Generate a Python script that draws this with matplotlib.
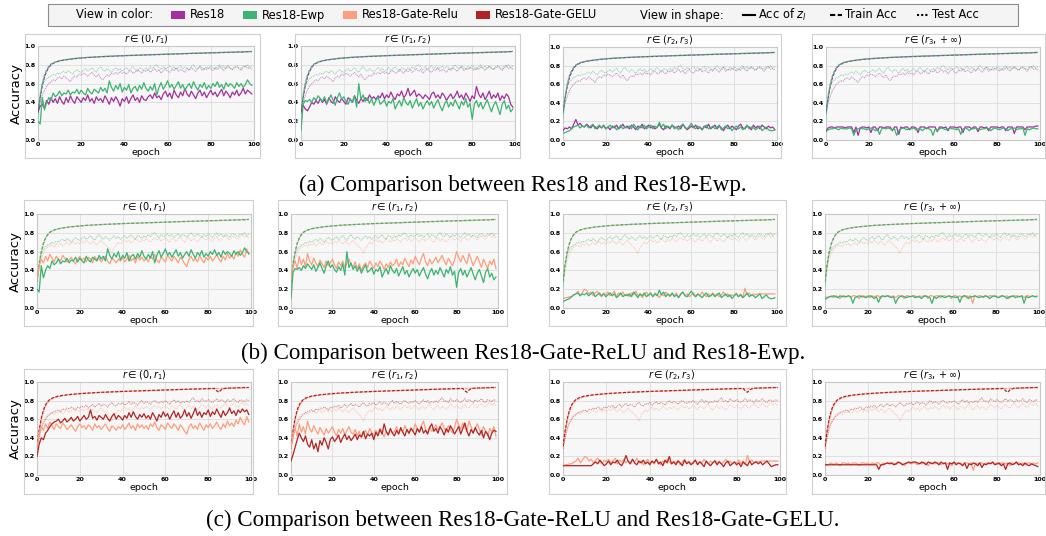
import numpy as np
import matplotlib
matplotlib.use("Agg")
import matplotlib.pyplot as plt
from matplotlib.patches import Rectangle
from matplotlib.lines import Line2D

# ---------------- data (accuracy; train in permille, others in percent) ----------------
train_res18 = [300,450,580,670,730,772,800,815,826,835, 841,846,850,854,857,860,863,866,868,870,
               872,874,876,877,879,880,882,883,884,886, 887,888,889,890,891,892,893,894,895,896,
               897,898,898,899,900,901,902,902,903,904, 905,906,906,907,908,909,909,910,911,912,
               913,913,914,915,916,916,917,918,919,919, 920,921,922,922,923,924,924,925,926,926,
               927,928,928,929,930,930,931,932,932,933, 934,934,935,936,936,937,938,939,940,941]
train_ewp = [280,470,600,690,745,782,806,820,830,838, 843,848,852,855,858,861,864,867,869,871,
             873,875,877,879,880,881,883,884,885,887, 888,889,890,891,892,893,894,895,896,897,
             898,899,900,900,901,902,903,903,904,905, 906,907,907,908,909,910,910,911,912,913,
             914,914,915,916,917,917,918,919,920,920, 921,922,923,923,924,925,925,926,927,927,
             928,929,929,930,931,931,932,933,933,934, 935,935,936,937,937,938,939,940,941,943]
train_relu = [290,460,590,680,740,778,803,818,828,836, 842,847,851,855,858,861,864,866,868,870,
              872,874,876,878,879,881,882,883,885,886, 887,888,889,890,891,892,893,894,895,896,
              897,898,899,900,900,901,902,903,903,904, 905,906,907,907,908,909,910,910,911,912,
              913,914,914,915,916,917,917,918,919,920, 920,921,922,922,923,924,925,925,926,927,
              927,928,929,929,930,931,931,932,933,933, 934,935,935,936,937,937,938,939,940,941]
train_gelu = [310,480,610,700,755,790,812,826,835,843, 848,852,856,859,862,865,867,869,871,873,
              875,877,878,880,881,883,884,885,886,888, 889,890,891,892,893,894,895,896,897,898,
              899,900,900,901,902,903,904,904,905,906, 907,908,908,909,910,911,911,912,913,914,
              915,915,916,917,918,918,919,920,921,921, 922,923,924,924,925,926,926,927,928,928,
              929,930,930,931,905,890,915,926,932,934, 935,936,936,937,938,938,939,940,940,941]

test_res18 = [30,40,47,53,57,60,62,64,63,66, 67,65,68,66,64,62,66,68,67,70,
              69,71,70,68,70,72,69,67,70,66, 64,67,69,68,71,70,72,70,73,71,
              72,70,73,74,71,72,75,73,71,74, 73,75,72,74,76,73,75,71,74,76,
              73,72,75,74,77,73,75,74,72,76, 74,77,75,73,76,78,74,76,75,77,
              76,74,77,75,78,76,74,77,79,76, 75,77,78,76,74,77,79,76,77,75]
test_ewp = [22,45,58,62,65,67,68,70,69,71, 70,72,73,71,74,72,70,73,75,73,
            72,74,76,73,75,77,74,72,76,78, 75,73,76,74,72,75,77,74,76,73,
            75,77,74,76,78,75,73,77,76,74, 77,75,78,76,79,80,77,75,78,76,
            77,79,76,78,75,77,79,76,78,77, 75,78,80,77,76,79,77,75,78,76,
            79,77,75,78,80,77,79,76,78,77, 75,78,79,77,76,79,78,80,77,79]
test_relu = [30,42,52,58,62,65,66,67,65,68, 67,69,66,68,70,67,69,71,68,70,
             68,71,69,72,70,68,71,69,67,70, 72,69,67,65,62,58,64,67,70,68,
             71,73,70,72,69,71,74,72,70,73, 71,74,72,70,73,75,72,74,71,73,
             75,72,70,74,73,71,74,76,72,70, 73,75,71,74,72,70,73,76,74,72,
             75,73,71,74,76,73,72,75,77,74, 72,75,77,74,73,76,78,75,77,74]
test_gelu = [28,40,50,56,60,63,65,67,68,69, 70,68,71,70,72,71,73,72,70,73,
             72,74,73,75,72,74,76,73,75,77, 74,76,75,73,76,78,75,74,77,76,
             78,75,77,79,76,78,77,75,78,80, 77,79,78,76,79,80,78,77,79,78,
             80,78,76,79,81,78,80,77,79,78, 80,78,81,83,79,80,78,82,80,79,
             81,79,78,80,82,79,81,80,78,81, 79,80,82,79,78,81,80,79,81,80]

# accuracy of z_l for the four ranges of r
z1_res18 = [30,36,38,34,42,38,45,40,44,39, 46,41,38,45,40,47,42,39,46,43,
            40,45,42,48,41,44,39,46,42,44, 40,47,43,38,45,41,46,42,36,44,
            41,46,39,44,48,42,45,40,47,43, 42,46,48,44,50,45,47,43,49,52,
            46,50,44,53,48,45,51,47,55,49, 46,52,48,44,50,53,47,51,45,49,
            53,48,51,46,50,54,47,52,49,45, 51,48,53,47,50,55,49,53,51,49]
z1_ewp = [20,17,45,32,40,45,42,50,46,48, 52,47,50,49,53,48,51,50,54,49,
          53,50,48,55,51,49,54,52,50,56, 52,55,50,63,56,52,58,54,60,51,
          56,53,59,50,55,57,52,58,54,61, 55,52,57,53,60,48,56,61,54,58,
          63,56,59,54,58,62,55,59,53,57, 60,55,62,57,53,59,56,61,54,58,
          55,60,57,62,56,59,54,61,57,60, 58,55,61,57,60,56,59,64,60,58]
z1_relu = [30,45,52,48,55,50,57,53,49,55, 52,50,56,53,49,51,54,50,47,52,
           55,51,53,49,54,52,48,55,51,53, 49,52,55,50,47,53,51,48,52,50,
           54,49,52,56,50,53,48,55,51,54, 50,53,49,55,52,57,51,48,54,52,
           49,56,53,50,55,52,48,54,51,47, 44,52,55,50,53,49,56,52,48,54,
           51,55,50,53,57,52,49,55,51,58, 53,56,52,59,55,62,57,54,63,57]
z1_gelu = [20,33,40,38,45,48,52,55,57,58, 60,56,58,61,57,59,62,58,60,63,
           58,61,64,60,62,70,61,63,59,64, 62,60,65,61,58,63,66,60,64,62,
           59,64,61,67,62,68,63,60,65,62, 66,61,64,60,67,63,58,65,62,68,
           63,66,60,65,69,62,67,61,64,70, 63,67,61,66,72,64,68,62,67,65,
           70,63,68,65,71,66,62,69,64,67, 72,66,69,64,70,67,71,68,70,65]

z2_res18 = [30,37,33,31,35,40,38,42,39,44, 40,43,38,45,41,39,46,42,40,44,
            41,38,45,43,40,47,42,39,44,41, 45,42,48,44,46,43,47,45,50,44,
            48,45,51,46,43,49,47,52,45,48, 55,47,50,53,46,49,47,44,48,46,
            43,49,51,45,48,44,50,47,42,46, 49,44,47,52,45,48,43,50,46,41,
            47,44,57,49,45,50,43,47,52,44, 48,45,50,42,47,44,49,46,38,35]
z2_ewp = [10,38,42,41,43,40,45,42,47,44, 41,46,39,43,48,42,37,45,50,43,
          46,41,38,44,40,47,35,60,43,48, 41,45,39,44,37,42,46,38,40,43,
          36,41,39,44,33,38,42,36,45,40, 37,42,34,39,44,36,40,33,38,42,
          37,41,34,39,43,36,31,38,42,35, 40,36,43,38,33,41,37,44,35,39,
          22,38,42,35,40,33,38,43,36,30, 37,41,34,27,38,42,33,37,30,33]
z2_relu = [30,44,50,42,55,46,52,44,58,50, 46,53,48,44,51,47,43,50,45,48,
           52,46,42,49,45,50,43,48,52,46, 44,49,42,47,40,45,48,43,50,46,
           42,48,44,50,46,41,47,43,49,45, 47,52,44,49,46,53,48,44,51,47,
           55,50,46,53,58,49,45,52,47,50, 54,48,52,56,50,46,53,49,45,51,
           60,54,49,56,51,47,58,52,45,50, 55,49,43,52,47,42,50,46,52,42]
z2_gelu = [15,22,30,38,45,40,36,42,33,30, 38,28,34,25,37,32,40,35,28,38,
           41,36,39,43,35,40,44,38,42,37, 40,44,38,43,41,47,39,44,42,45,
           38,46,42,49,44,55,47,43,50,45, 42,48,44,51,46,42,49,45,50,47,
           43,50,46,52,45,48,44,51,55,47, 50,45,52,48,43,50,46,53,49,44,
           48,52,44,50,56,47,42,49,45,51, 46,43,48,40,47,44,38,45,48,47]

z3_res18 = [10,13,12,14,12,17,22,16,18,15, 14,17,15,13,16,14,12,15,13,16,
            12,14,11,15,13,16,12,14,17,13, 15,12,16,14,11,15,13,17,12,14,
            16,13,15,12,14,17,13,11,15,14, 12,16,14,13,15,12,17,14,11,13,
            15,13,16,12,14,11,15,13,17,12, 14,16,12,15,13,10,14,16,12,15,
            13,11,15,17,13,12,15,14,11,16, 13,15,12,16,14,12,15,13,14,11]
z3_ewp = [7,8,9,10,12,14,15,16,13,15, 14,16,13,15,17,12,14,16,13,15,
          12,14,16,13,15,11,13,16,12,14, 13,15,12,17,14,11,15,13,16,12,
          14,16,12,15,13,19,14,17,12,15, 13,16,12,14,11,15,17,13,12,15,
          18,14,12,15,13,11,14,16,12,13, 15,12,14,16,11,13,15,12,14,10,
          13,15,12,14,11,13,16,12,14,13, 11,13,15,10,12,14,11,10,10,11]
z3_relu = [10,11,11,12,12,14,15,18,13,16, 20,19,15,17,13,16,18,14,12,16,
           14,17,13,15,18,12,16,14,17,13, 15,12,16,14,18,13,15,11,14,17,
           13,15,12,16,14,11,15,13,17,14, 12,15,13,16,11,14,17,13,15,12,
           14,16,12,15,13,17,14,12,15,13, 16,13,15,12,14,17,13,15,12,14,
           13,16,12,15,11,21,14,16,13,15, 14,15,15,15,15,15,15,15,15,15]
z3_gelu = [10,10,10,10,10,10,10,10,10,10, 10,10,10,10,12,14,12,16,13,10,
           12,15,11,14,13,16,12,10,14,21, 15,12,17,13,11,15,13,16,12,14,
           11,15,13,17,12,14,10,16,13,20, 12,14,11,15,13,10,16,12,14,11,
           13,16,11,14,12,9,15,12,10,13, 15,11,14,12,9,13,15,10,12,14,
           11,13,9,14,12,10,15,11,13,14, 12,14,11,13,15,12,9,10,11,11]

z4_res18 = [10,13,14,14,13,14,14,14,14,13, 14,14,14,8,14,5,13,14,14,13,
            14,8,14,14,10,14,14,13,14,14, 14,10,14,14,6,14,13,14,14,11,
            14,14,13,8,14,14,14,12,14,14, 14,14,9,14,14,13,14,10,14,14,
            14,13,14,14,8,14,14,14,12,14, 14,9,14,14,13,14,10,14,14,14,
            14,13,14,14,10,14,14,14,7,14, 14,14,14,11,14,14,14,14,15,15]
z4_ewp = [9,11,12,12,13,12,11,13,12,12, 12,13,12,5,11,12,13,12,12,11,
          12,13,12,10,12,6,12,13,12,13, 12,11,12,5,10,12,13,12,11,12,
          12,13,11,12,12,10,12,13,12,11, 5,12,10,12,13,12,11,12,13,12,
          12,11,12,6,12,13,12,10,12,12, 13,12,11,12,12,13,12,10,12,13,
          12,11,12,13,12,10,12,12,13,11, 12,12,13,5,12,11,12,13,12,12]
z4_relu = [13,10,12,13,11,13,12,10,13,13, 12,13,11,13,13,12,10,13,13,12,
           13,11,13,12,13,13,10,13,12,13, 13,12,13,11,13,13,12,10,13,13,
           12,13,13,11,13,12,13,13,10,13, 13,12,13,13,11,13,13,12,13,10,
           13,13,12,13,11,13,13,12,13,5, 13,12,13,13,11,13,12,13,13,12,
           13,11,13,13,12,13,10,13,12,13, 13,12,13,11,13,13,12,13,12,13]
z4_gelu = [11,11,11,11,11,11,11,11,11,11, 11,11,11,11,11,11,11,11,11,11,
           11,11,11,11,11,6,11,11,12,13, 12,13,11,12,14,13,11,12,13,14,
           13,14,14,13,12,14,13,11,14,13, 12,14,13,11,14,12,13,6,13,12,
           14,11,13,12,10,13,7,12,11,13, 12,10,13,8,12,11,13,12,14,11,
           12,13,10,12,6,12,13,11,12,14, 11,12,10,13,11,10,12,11,10,9]

model_names = ["Res18", "Res18-Ewp", "Res18-Gate-Relu", "Res18-Gate-GELU"]
range_titles = [r"$r\in(0,r_1)$", r"$r\in(r_1,r_2)$", r"$r\in(r_2,r_3)$", r"$r\in(r_3,+\infty)$"]
captions = ["(a) Comparison between Res18 and Res18-Ewp.",
            "(b) Comparison between Res18-Gate-ReLU and Res18-Ewp.",
            "(c) Comparison between Res18-Gate-ReLU and Res18-Gate-GELU."]
x_ticks = [0, 20, 40, 60, 80, 100]
y_ticks = [0.0, 0.2, 0.4, 0.6, 0.8, 1.0]

# ---------------- tables built from the arrays ----------------
colors = {"Res18": "#a2309e", "Res18-Ewp": "#3cb371",
          "Res18-Gate-Relu": "#fc9f7e", "Res18-Gate-GELU": "#b22424"}
models = {
    "Res18": dict(train=train_res18, test=test_res18, z=[z1_res18, z2_res18, z3_res18, z4_res18]),
    "Res18-Ewp": dict(train=train_ewp, test=test_ewp, z=[z1_ewp, z2_ewp, z3_ewp, z4_ewp]),
    "Res18-Gate-Relu": dict(train=train_relu, test=test_relu, z=[z1_relu, z2_relu, z3_relu, z4_relu]),
    "Res18-Gate-GELU": dict(train=train_gelu, test=test_gelu, z=[z1_gelu, z2_gelu, z3_gelu, z4_gelu]),
}
row_models = [["Res18", "Res18-Ewp"], ["Res18-Gate-Relu", "Res18-Ewp"], ["Res18-Gate-Relu", "Res18-Gate-GELU"]]

W, H = 1046, 536
fig = plt.figure(figsize=(W / 100, H / 100), dpi=100)
fig.patch.set_facecolor("white")

def px_axes(l, r, t, b):
    return fig.add_axes([l / W, 1 - b / H, (r - l) / W, (b - t) / H])

def px_rect(l, r, t, b, **kw):
    fig.patches.append(Rectangle((l / W, 1 - b / H), (r - l) / W, (b - t) / H,
                                 transform=fig.transFigure, figure=fig, **kw))

# axes pixel boxes (left, right, top, bottom) per row
axes_boxes = [
    [(38, 254, 46, 140), (301, 515, 46, 140), (563, 777, 47, 140), (826, 1040, 47, 140)],
    [(37, 251, 214, 308), (291, 498, 214, 308), (563, 777, 214, 308), (825, 1039, 214, 308)],
    [(37, 251, 382, 475), (291, 498, 382, 475), (563, 780, 382, 475), (825, 1040, 382, 475)],
]
frame_boxes = [
    [(25, 260, 34, 158), (295, 520, 34, 158), (549, 781, 34, 158), (812, 1045, 34, 158)],
    [(24, 253, 200, 326), (278, 507, 200, 326), (549, 786, 200, 326), (812, 1045, 200, 326)],
    [(24, 253, 369, 494), (278, 507, 369, 494), (549, 786, 369, 494), (812, 1045, 369, 494)],
]
caption_y = [185, 353, 520]

for ri in range(3):
    for ci in range(4):
        fl, fr, ft, fb = frame_boxes[ri][ci]
        px_rect(fl, fr, ft, fb, fill=False, edgecolor="#cfcfcf", linewidth=0.8)
        ax = px_axes(*axes_boxes[ri][ci])
        ax.set_facecolor("#f7f7f7")
        for m in row_models[ri]:
            d = models[m]
            c = colors[m]
            tr = np.array(d["train"]) / 1000.0
            te = np.array(d["test"]) / 100.0
            zz = np.array(d["z"][ci]) / 100.0
            ax.plot(np.arange(len(tr)), tr, color=c, ls=(0, (2.5, 1.2)), lw=0.9, zorder=3)
            ax.plot(np.arange(len(te)), te, color=c, ls=(0, (1, 0.8)), lw=0.8, alpha=0.5, zorder=3)
            ax.plot(np.arange(len(zz)), zz, color=c, ls="-", lw=0.9, zorder=4)
        ax.set_xlim(0, 100)
        ax.set_ylim(0, 1.0)
        ax.set_xticks(x_ticks)
        ax.set_yticks(y_ticks)
        ax.set_xticklabels([str(v) for v in x_ticks], fontsize=4.6, fontweight="bold")
        ax.set_yticklabels(["%.1f" % v for v in y_ticks], fontsize=4.6, fontweight="bold")
        ax.tick_params(length=0, pad=1.5)
        ax.grid(True, color="#dcdcdc", lw=0.6)
        ax.set_axisbelow(True)
        for s in ax.spines.values():
            s.set_color("#c8c8c8")
            s.set_linewidth(0.8)
        ax.set_title(range_titles[ci], fontsize=7, pad=1.5)
        ax.set_xlabel("epoch", fontsize=6.8, labelpad=0.5)
        if ci == 0:
            ax.set_ylabel("Accuracy", fontsize=9.5, labelpad=1)
    fig.text(523 / W, 1 - caption_y[ri] / H, captions[ri], ha="center", va="center",
             fontsize=16.6, family="Liberation Serif")

# ---------------- legend bar ----------------
px_rect(48, 1018, 4, 26, facecolor="#f4f4f4", edgecolor="#8c8c8c", linewidth=0.8)
leg_font = dict(fontsize=8.3, family=["Liberation Sans Narrow", "DejaVu Sans"], va="center")
ly = 1 - 15 / H
fig.text(76 / W, ly, "View in color:", ha="left", **leg_font)
patch_x = [171, 243, 343, 476]
for name, pxl in zip(model_names, patch_x):
    px_rect(pxl, pxl + 14, 11, 19, facecolor=colors[name], edgecolor="none")
    fig.text((pxl + 19) / W, ly, name, ha="left", **leg_font)
fig.text(640 / W, ly, "View in shape:", ha="left", **leg_font)
shape_items = [(743, "-", r"Acc of $z_l$"), (830, (0, (2.5, 1.2)), "Train Acc"), (917, (0, (1, 1)), "Test Acc")]
for pxl, ls, lab in shape_items:
    fig.lines.append(Line2D([pxl / W, (pxl + 12) / W], [ly, ly], transform=fig.transFigure,
                            color="black", ls=ls, lw=1.5))
    fig.text((pxl + 15) / W, ly, lab, ha="left", **leg_font)

fig.savefig("out.png", dpi=100)
